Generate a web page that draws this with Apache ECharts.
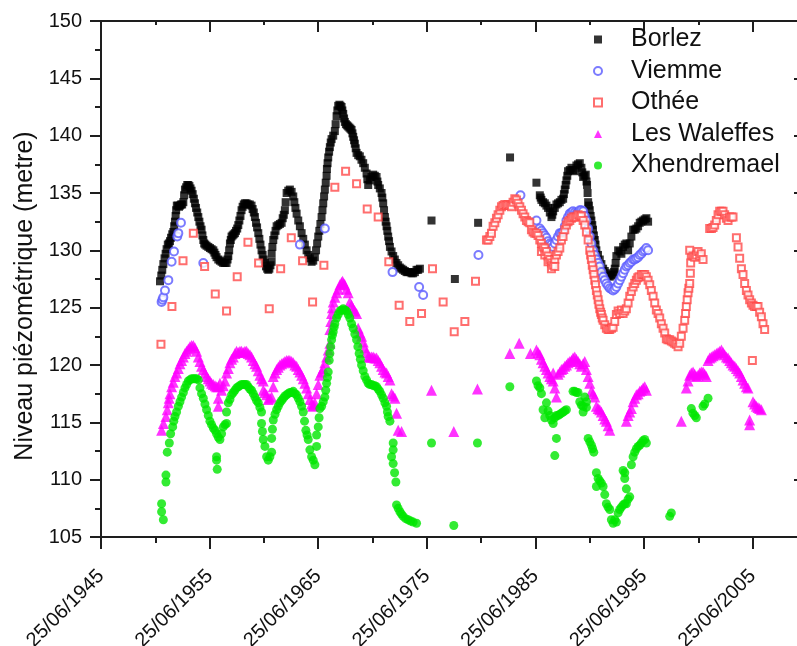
<!DOCTYPE html>
<html>
<head>
<meta charset="utf-8">
<script src="https://cdn.jsdelivr.net/npm/echarts@6/dist/echarts.min.js"></script>
<style>html,body{margin:0;padding:0;background:#fff}#c{width:797px;height:646px}</style>
</head>
<body>
<div id="c"></div>
<script>
// x values: decimal years, integer year = 25/06 of that year
const seriesNames = ['Borlez', 'Viemme', 'Othée', 'Les Waleffes', 'Xhendremael'];
const xTickYears = [1945, 1955, 1965, 1975, 1985, 1995, 2005];
const yTicks = [105, 110, 115, 120, 125, 130, 135, 140, 145, 150];

const borlez = [
[1950.43,127.3],[1950.55,127.8],[1950.64,128.3],[1950.74,128.8],[1950.85,129.3],[1950.95,129.7],[1951.04,130.1],[1951.15,130.5],[1951.25,130.6],[1951.35,130.8],[1951.45,131.1],[1951.56,131.4],[1951.66,131.6],[1951.74,132.1],[1951.81,132.5],[1951.87,133.0],[1951.92,133.5],[1951.98,133.9],[1952.08,133.9],[1952.18,133.8],[1952.27,133.9],[1952.37,134.0],[1952.47,134.0],[1952.58,134.2],[1952.65,134.8],[1952.73,135.3],[1952.84,135.5],[1952.94,135.7],[1953.04,135.7],[1953.14,135.6],[1953.24,135.4],[1953.34,135.2],[1953.44,134.9],[1953.55,134.5],[1953.65,134.1],[1953.75,133.7],[1953.86,133.3],[1953.96,132.9],[1954.06,132.5],[1954.16,132.1],[1954.26,131.8],[1954.34,131.3],[1954.42,130.9],[1954.50,130.6],[1954.60,130.5],[1954.72,130.4],[1954.88,130.3],[1955.03,130.2],[1955.18,130.1],[1955.34,130.0],[1955.44,129.8],[1955.54,129.6],[1955.64,129.4],[1955.80,129.2],[1955.95,129.1],[1956.10,129.0],[1956.25,128.9],[1956.40,128.9],[1956.56,128.9],[1956.65,129.2],[1956.72,129.5],[1956.80,130.0],[1956.87,130.6],[1956.95,130.9],[1957.02,131.2],[1957.12,131.3],[1957.22,131.4],[1957.33,131.5],[1957.43,131.7],[1957.54,131.9],[1957.64,132.2],[1957.74,132.6],[1957.84,133.0],[1957.94,133.5],[1958.04,133.8],[1958.15,134.0],[1958.25,134.1],[1958.40,134.1],[1958.55,134.0],[1958.70,134.0],[1958.86,133.9],[1958.96,133.6],[1959.07,133.3],[1959.17,132.9],[1959.27,132.4],[1959.37,132.0],[1959.48,131.5],[1959.58,131.0],[1959.68,130.5],[1959.78,130.0],[1959.88,129.6],[1959.98,129.2],[1960.09,128.9],[1960.19,128.6],[1960.30,128.4],[1960.40,128.3],[1960.50,128.4],[1960.60,128.7],[1960.71,129.0],[1960.71,129.7],[1960.78,130.3],[1960.86,130.9],[1960.96,131.3],[1961.07,131.7],[1961.17,132.1],[1961.32,132.2],[1961.47,132.3],[1961.63,132.4],[1961.73,132.8],[1961.83,133.1],[1961.93,133.5],[1962.00,134.2],[1962.09,135.0],[1962.24,135.2],[1962.39,135.3],[1962.55,135.1],[1962.70,134.7],[1962.80,134.2],[1962.90,133.7],[1963.01,133.2],[1963.16,132.6],[1963.31,132.1],[1963.47,131.5],[1963.62,131.0],[1963.77,130.5],[1963.93,130.0],[1964.08,129.6],[1964.23,129.3],[1964.39,129.0],[1964.54,129.1],[1964.69,129.4],[1964.80,130.0],[1964.90,130.6],[1965.00,131.2],[1965.10,131.7],[1965.20,132.3],[1965.31,132.9],[1965.39,133.5],[1965.46,134.1],[1965.54,134.7],[1965.61,135.3],[1965.69,135.9],[1965.77,136.5],[1965.80,137.1],[1965.86,137.6],[1965.92,138.1],[1966.00,138.6],[1966.07,139.0],[1966.15,139.4],[1966.23,139.7],[1966.38,140.0],[1966.53,140.4],[1966.60,141.0],[1966.69,141.7],[1966.76,142.2],[1966.84,142.6],[1966.95,142.7],[1967.05,142.6],[1967.15,142.5],[1967.22,142.2],[1967.30,141.9],[1967.38,141.5],[1967.45,141.2],[1967.55,141.0],[1967.66,140.9],[1967.76,140.8],[1967.87,140.7],[1967.97,140.6],[1968.07,140.5],[1968.15,140.2],[1968.22,139.9],[1968.30,139.6],[1968.37,139.3],[1968.45,138.9],[1968.53,138.5],[1968.68,138.3],[1968.83,138.2],[1968.98,137.9],[1969.14,137.6],[1969.29,137.2],[1969.45,136.7],[1969.52,136.2],[1969.60,135.7],[1969.75,136.1],[1969.90,136.4],[1970.06,136.6],[1970.21,136.5],[1970.37,136.4],[1970.45,136.0],[1970.52,135.7],[1970.67,135.4],[1970.83,135.0],[1970.90,134.6],[1970.98,134.1],[1971.06,133.5],[1971.14,132.9],[1971.21,132.5],[1971.29,132.1],[1971.36,131.7],[1971.44,131.2],[1971.52,130.8],[1971.60,130.3],[1971.75,129.9],[1971.90,129.5],[1972.05,129.2],[1972.20,128.9],[1972.36,128.7],[1972.51,128.5],[1972.66,128.4],[1972.82,128.3],[1972.97,128.2],[1973.13,128.1],[1973.28,128.1],[1973.43,128.1],[1973.59,128.0],[1973.74,128.0],[1973.90,128.1],[1974.05,128.3],[1974.20,128.3],[1974.36,128.4],
[1975.43,132.6],[1977.58,127.5],[1979.72,132.4],[1982.66,138.1],[1985.09,135.9],
[1985.40,134.8],[1985.48,134.6],[1985.55,134.4],[1985.70,134.2],[1985.86,134.1],[1986.01,133.9],[1986.16,133.7],[1986.32,133.3],[1986.47,132.9],[1986.55,133.1],[1986.63,133.4],[1986.78,133.7],[1986.93,134.0],[1987.08,134.1],[1987.24,134.2],[1987.39,134.4],[1987.55,134.5],[1987.62,134.9],[1987.70,135.3],[1987.78,135.7],[1987.85,136.1],[1987.93,136.5],[1988.00,136.9],[1988.16,137.0],[1988.31,137.2],[1988.46,137.0],[1988.62,136.9],[1988.77,137.4],[1988.92,137.5],[1989.08,137.6],[1989.23,137.2],[1989.31,136.8],[1989.39,136.4],[1989.51,136.5],[1989.63,136.6],[1989.70,136.0],[1989.75,135.7],[1989.80,135.0],[1989.85,134.2],[1989.92,133.9],[1990.00,133.5],[1990.08,133.0],[1990.15,132.6],[1990.23,132.2],[1990.30,131.8],[1990.38,131.3],[1990.46,130.9],[1990.53,130.5],[1990.61,130.0],[1990.76,129.6],[1990.92,129.2],[1991.07,128.8],[1991.23,128.4],[1991.38,128.2],[1991.53,128.0],[1991.69,127.8],[1991.84,127.7],[1992.00,127.8],[1992.15,127.9],[1992.22,128.1],[1992.30,128.4],[1992.38,128.9],[1992.45,129.5],[1992.61,130.0],[1992.76,129.9],[1992.91,129.7],[1993.07,130.3],[1993.22,130.5],[1993.37,130.6],[1993.53,130.0],[1993.68,130.6],[1993.83,131.2],[1993.99,131.8],[1994.14,131.8],[1994.29,131.9],[1994.45,132.1],[1994.60,132.4],[1994.75,132.5],[1994.91,132.6],[1995.06,132.7],[1995.21,132.8],[1995.37,132.5]
];

const viemme = [
[1950.58,125.5],[1950.66,125.7],[1950.74,125.9],[1950.89,126.5],[1951.20,127.4],[1951.50,129.0],[1951.72,129.9],[1952.02,131.2],[1952.12,131.5],[1952.36,132.4],[1954.42,128.9],[1963.31,130.5],[1965.61,131.9],[1971.84,128.1],[1974.29,126.8],[1974.66,126.1],[1979.75,129.6],[1983.62,134.8],[1985.09,132.6],
[1985.40,131.9],[1985.55,131.7],[1985.70,131.5],[1985.86,131.3],[1986.01,131.1],[1986.16,130.8],[1986.32,130.6],[1986.47,130.5],[1986.62,130.3],[1986.78,130.6],[1986.93,130.9],[1987.08,131.2],[1987.24,131.5],[1987.39,131.5],[1987.55,131.6],[1987.70,132.1],[1987.85,132.6],[1988.00,132.9],[1988.16,133.2],[1988.31,133.3],[1988.46,133.4],[1988.62,133.3],[1988.77,133.2],[1988.92,133.3],[1989.08,133.5],[1989.23,133.5],[1989.39,133.4],[1989.54,133.0],[1989.69,132.6],[1989.85,131.9],[1990.00,131.2],[1990.15,130.6],[1990.31,130.0],[1990.46,129.6],[1990.61,129.2],[1990.77,128.9],[1990.92,128.6],[1991.07,128.1],[1991.23,127.7],[1991.38,127.4],[1991.53,127.1],[1991.69,126.9],[1991.84,126.7],[1992.00,126.6],[1992.15,126.5],[1992.30,126.6],[1992.45,126.8],[1992.61,127.1],[1992.76,127.4],[1992.91,127.7],[1993.07,128.0],[1993.22,128.3],[1993.37,128.6],[1993.53,128.7],[1993.68,128.9],[1993.83,129.0],[1993.99,129.2],[1994.14,129.2],[1994.29,129.3],[1994.45,129.4],[1994.60,129.6],[1994.75,129.7],[1994.91,129.9],[1995.06,130.0],[1995.21,130.2],[1995.37,130.0]
];

const othee = [
[1950.52,121.8],[1951.53,125.1],[1952.55,129.1],[1953.50,131.5],[1954.54,128.6],[1955.52,126.2],[1956.56,124.7],[1957.54,127.7],[1958.53,130.7],[1959.51,128.9],[1960.49,124.9],[1961.54,128.4],[1962.52,131.1],[1963.56,129.1],[1964.48,125.5],[1965.52,128.7],[1966.53,135.5],[1967.52,136.9],[1968.53,135.8],[1969.51,133.6],[1970.52,132.9],[1971.50,129.0],[1972.45,125.2],[1973.43,123.8],[1974.51,124.5],[1975.52,128.4],[1976.50,125.5],[1977.52,122.9],[1978.50,123.8],[1979.48,127.3],
[1980.49,130.9],[1980.64,130.9],[1980.80,131.2],[1980.95,131.5],[1981.10,132.1],[1981.26,132.4],[1981.41,132.8],[1981.56,133.1],[1981.72,133.5],[1981.87,133.8],[1982.02,133.9],[1982.18,134.0],[1982.33,133.9],[1982.48,134.0],[1982.64,133.9],[1982.79,133.8],[1982.94,134.2],[1983.10,134.5],[1983.25,134.4],[1983.40,134.1],[1983.56,133.8],[1983.71,133.5],[1983.86,133.2],[1984.02,132.9],[1984.17,132.6],[1984.33,132.5],[1984.48,132.4],[1984.63,131.8],[1984.78,131.6],[1984.94,131.5],[1985.09,131.5],[1985.24,131.3],[1985.40,130.9],[1985.55,130.6],[1985.55,129.9],[1985.70,130.3],[1985.86,130.2],[1985.86,129.6],[1986.01,129.9],[1986.16,129.5],[1986.16,129.0],[1986.32,129.2],[1986.47,128.9],[1986.47,128.4],[1986.62,128.7],[1986.78,129.2],[1986.78,128.6],[1986.93,129.6],[1987.08,129.9],[1987.24,130.2],[1987.39,130.9],[1987.54,131.2],[1987.70,131.8],[1987.85,132.2],[1988.00,132.5],[1988.16,132.6],[1988.31,132.8],[1988.46,132.9],[1988.62,132.9],[1988.77,132.9],[1988.92,133.1],[1989.08,133.0],[1989.23,133.0],[1989.39,132.6],[1989.54,132.2],[1989.69,131.6],[1989.85,130.9],[1990.00,130.0],[1990.08,129.6],[1990.15,129.2],[1990.23,128.7],[1990.31,128.3],[1990.38,127.9],[1990.46,127.4],[1990.53,127.0],[1990.61,126.5],[1990.69,126.1],[1990.77,125.7],[1990.84,125.3],[1990.92,124.9],[1991.00,124.6],[1991.07,124.4],[1991.15,124.1],[1991.23,123.9],[1991.38,123.5],[1991.53,123.2],[1991.69,123.1],[1991.84,123.1],[1992.00,123.2],[1992.15,123.3],[1992.30,123.8],[1992.45,124.4],[1992.61,124.7],[1992.76,124.5],[1992.91,124.8],[1993.07,124.5],[1993.22,124.7],[1993.37,124.9],[1993.53,125.4],[1993.68,126.0],[1993.83,126.4],[1993.99,126.8],[1994.14,127.1],[1994.29,127.4],[1994.42,127.6],[1994.54,127.7],[1994.75,127.9],[1994.91,127.9],[1995.06,127.9],[1995.21,127.7],[1995.37,127.4],[1995.52,127.0],[1995.67,126.5],[1995.83,126.0],[1995.98,125.4],[1996.13,124.8],[1996.29,124.5],[1996.44,124.1],[1996.59,123.6],[1996.75,123.2],[1996.90,122.8],[1997.05,122.3],[1997.20,122.2],[1997.36,122.2],[1997.51,122.1],[1997.67,122.0],[1997.82,121.9],[1997.97,121.8],[1998.13,121.6],[1998.28,121.9],[1998.43,122.5],[1998.59,123.2],[1998.74,123.9],[1998.82,124.5],[1998.89,125.1],[1998.97,125.7],[1999.05,126.3],[1999.12,126.7],[1999.20,127.1],[1999.26,128.0],[1999.29,128.9],[1999.35,129.6],[1999.20,130.0],[1999.51,129.5],[1999.66,129.4],[1999.81,129.6],[1999.97,129.9],[2000.12,129.5],[2000.27,129.7],[2000.43,129.2],[2001.04,131.9],[2001.20,131.9],[2001.35,132.0],[2001.50,132.2],[2001.65,132.6],[2001.81,133.1],[2001.96,133.4],[2002.12,133.4],[2002.27,133.4],[2002.42,133.1],[2002.58,132.8],[2002.73,132.6],[2002.88,132.9],[2003.04,132.9],[2003.19,132.9],[2003.50,131.1],[2003.65,130.3],[2003.80,129.3],[2003.96,128.4],[2004.11,127.9],[2004.26,127.1],[2004.42,126.5],[2004.57,126.1],[2004.72,125.7],[2004.88,125.4],[2005.03,125.2],[2005.18,125.1],[2005.34,125.1],[2005.49,125.1],[2005.64,124.6],[2005.80,124.2],[2005.95,123.6],[2006.10,123.1],[2004.97,120.4]
];

const waleffes = [
[1950.58,114.3],[1950.75,114.9],[1950.98,115.5],[1951.10,116.1],[1951.20,116.7],[1951.28,117.1],[1951.35,117.5],[1951.50,118.1],[1951.65,118.5],[1951.81,119.0],[1951.96,119.3],[1952.12,119.7],[1952.27,120.1],[1952.42,120.4],[1952.58,120.7],[1952.73,121.0],[1952.88,121.2],[1953.04,121.4],[1953.19,121.6],[1953.34,121.7],[1953.50,121.7],[1953.65,121.5],[1953.80,121.2],[1953.96,120.7],[1954.11,120.3],[1954.26,119.9],[1954.42,119.6],[1954.57,119.3],[1954.72,119.0],[1954.88,118.8],[1955.03,118.6],[1955.18,118.4],[1955.34,118.3],[1955.50,118.2],[1955.64,118.1],[1955.80,118.1],[1955.95,118.4],[1955.80,117.1],[1955.80,116.4],[1956.10,117.8],[1956.26,118.2],[1956.41,118.6],[1956.56,119.3],[1956.72,119.7],[1956.87,120.2],[1957.02,120.5],[1957.18,120.7],[1957.33,121.0],[1957.48,121.2],[1957.64,121.1],[1957.79,121.2],[1957.94,121.2],[1958.10,121.1],[1958.25,121.2],[1958.40,121.2],[1958.55,121.0],[1958.71,120.9],[1958.86,120.7],[1959.02,120.4],[1959.17,120.1],[1959.32,119.9],[1959.48,119.5],[1959.63,119.1],[1959.78,118.8],[1959.94,118.6],[1959.94,117.8],[1960.09,117.6],[1960.25,117.4],[1960.40,117.0],[1960.55,117.1],[1960.71,117.2],[1960.86,118.1],[1960.86,119.0],[1961.02,119.3],[1961.17,119.6],[1961.32,119.8],[1961.47,120.0],[1961.63,120.1],[1961.78,120.2],[1961.93,120.3],[1962.09,120.4],[1962.24,120.4],[1962.39,120.4],[1962.55,120.3],[1962.70,120.2],[1962.85,120.0],[1963.01,119.9],[1963.16,119.6],[1963.31,119.4],[1963.47,119.1],[1963.62,118.8],[1963.77,118.4],[1963.93,118.0],[1964.08,117.5],[1964.23,117.0],[1964.39,116.6],[1964.48,116.4],[1964.60,116.5],[1964.69,116.7],[1964.85,117.5],[1965.00,118.3],[1965.15,119.1],[1965.31,119.4],[1965.46,119.7],[1965.61,120.2],[1965.77,120.7],[1965.92,121.3],[1966.07,121.9],[1966.07,123.1],[1966.15,123.8],[1966.23,124.5],[1966.30,125.0],[1966.38,125.5],[1966.53,125.9],[1966.69,126.3],[1966.84,126.6],[1966.99,127.0],[1967.14,127.2],[1967.24,127.3],[1967.35,127.1],[1967.45,127.0],[1967.60,126.6],[1967.76,126.3],[1967.91,125.5],[1968.07,125.2],[1968.22,124.9],[1968.37,124.7],[1968.53,124.5],[1968.68,123.2],[1968.84,122.8],[1968.99,122.5],[1969.14,122.0],[1969.29,121.5],[1969.45,121.1],[1969.60,120.7],[1969.75,120.7],[1969.91,120.7],[1970.06,120.7],[1970.21,120.6],[1970.37,120.6],[1970.52,120.4],[1970.67,120.2],[1970.83,119.9],[1970.98,119.6],[1971.14,119.4],[1971.29,119.3],[1971.44,119.0],[1971.60,118.7],[1971.75,117.5],[1971.90,117.3],[1972.06,117.1],[1972.21,115.8],[1972.36,114.3],[1972.67,114.2],
[1975.43,117.8],[1977.48,114.2],[1979.66,117.9],[1982.64,121.0],[1983.50,121.9],[1984.54,121.0],[1985.09,121.3],[1985.24,121.1],[1985.40,120.9],[1985.55,120.5],[1985.70,120.2],[1985.86,119.9],[1986.01,119.6],[1986.16,119.3],[1986.32,119.0],[1986.47,118.8],[1986.63,118.6],[1986.63,119.3],[1986.78,118.0],[1986.93,117.2],[1987.08,119.2],[1987.24,119.4],[1987.39,119.6],[1987.55,119.7],[1987.70,119.9],[1987.85,120.0],[1988.00,120.2],[1988.16,120.3],[1988.31,120.4],[1988.46,120.6],[1988.62,120.7],[1988.77,120.5],[1988.93,120.3],[1989.08,120.1],[1989.23,119.9],[1989.39,120.1],[1989.54,120.3],[1989.69,119.6],[1989.85,119.0],[1990.00,118.4],[1990.15,117.7],[1990.31,117.5],[1990.46,117.2],[1990.61,116.4],[1990.77,116.2],[1990.92,116.1],[1991.07,115.9],[1991.23,115.6],[1991.38,115.3],[1991.53,115.1],[1991.69,114.7],[1991.84,114.3],[1993.37,115.1],[1993.53,115.6],[1993.68,115.9],[1993.83,116.2],[1993.99,116.8],[1994.14,117.1],[1994.29,117.4],[1994.45,117.5],[1994.60,117.7],[1994.75,117.8],[1994.91,118.0],[1995.06,118.1],[1995.21,117.8],
[1998.43,115.1],[1998.89,118.0],[1999.05,118.6],[1999.20,119.1],[1999.35,119.3],[1999.51,119.4],[1999.66,119.2],[1999.81,119.0],[1999.97,119.1],[2000.12,119.3],[2000.27,119.4],[2000.43,119.4],[2000.58,119.2],[2000.73,119.0],[2000.89,120.4],[2001.04,120.6],[2001.19,120.7],[2001.35,120.8],[2001.50,120.9],[2001.66,121.0],[2001.81,121.1],[2001.97,121.2],[2002.12,121.3],[2002.27,121.1],[2002.42,120.9],[2002.58,120.7],[2002.73,120.6],[2002.88,120.4],[2003.04,120.2],[2003.19,120.0],[2003.35,119.9],[2003.50,119.7],[2003.65,119.5],[2003.80,119.3],[2003.96,119.0],[2004.11,118.7],[2004.26,118.4],[2004.42,118.1],[2004.57,118.0],[2004.72,115.2],[2004.72,114.8],[2005.03,116.8],[2005.18,116.6],[2005.34,116.4],[2005.49,116.3],[2005.64,116.2],[2005.80,116.1]
];

const xhendremael = [
[1950.58,107.9],[1950.58,107.2],[1950.74,106.5],[1950.98,110.4],[1950.98,109.8],[1951.10,112.4],[1951.29,113.2],[1951.41,114.0],[1951.60,114.6],[1951.70,115.1],[1951.81,115.5],[1951.96,115.9],[1952.12,116.4],[1952.27,116.8],[1952.42,117.2],[1952.58,117.6],[1952.73,118.0],[1952.88,118.3],[1953.04,118.6],[1953.19,118.7],[1953.34,118.8],[1953.50,118.8],[1953.65,118.8],[1953.80,118.8],[1953.96,118.7],[1954.11,118.0],[1954.26,117.5],[1954.42,117.1],[1954.57,116.6],[1954.72,116.1],[1954.88,115.6],[1955.03,115.1],[1955.18,114.8],[1955.34,114.5],[1955.50,114.3],[1955.64,114.0],[1955.80,113.7],[1955.95,113.5],[1956.10,114.0],[1956.26,114.6],[1956.41,114.8],[1956.56,114.9],[1955.64,112.0],[1955.64,111.7],[1955.70,110.9],[1956.56,115.9],[1956.72,116.7],[1956.87,117.0],[1957.02,117.4],[1957.18,117.6],[1957.33,117.8],[1957.48,118.0],[1957.64,118.1],[1957.79,118.2],[1957.94,118.3],[1958.10,118.3],[1958.25,118.3],[1958.40,118.3],[1958.55,118.1],[1958.71,117.9],[1958.86,117.8],[1959.02,117.5],[1959.17,117.2],[1959.32,116.9],[1959.48,116.7],[1959.63,116.3],[1959.78,115.9],[1959.78,114.9],[1959.86,114.2],[1959.94,113.5],[1960.09,112.9],[1960.25,112.0],[1960.40,111.7],[1960.55,112.0],[1960.71,112.4],[1960.71,113.6],[1960.78,114.4],[1960.86,115.2],[1961.02,115.7],[1961.17,116.1],[1961.32,116.4],[1961.47,116.7],[1961.63,116.9],[1961.78,117.1],[1961.93,117.3],[1962.09,117.4],[1962.24,117.5],[1962.39,117.6],[1962.55,117.6],[1962.70,117.7],[1962.85,117.5],[1963.01,117.4],[1963.16,117.1],[1963.31,116.8],[1963.47,116.4],[1963.62,115.9],[1963.74,115.1],[1963.86,114.3],[1963.97,113.9],[1964.08,113.5],[1964.23,112.6],[1964.39,112.0],[1964.54,111.7],[1964.69,111.3],[1964.85,112.9],[1964.85,113.9],[1965.00,114.6],[1965.08,115.4],[1965.15,116.2],[1965.31,116.4],[1965.46,116.8],[1965.61,117.2],[1965.69,117.8],[1965.77,118.4],[1965.85,118.9],[1965.92,119.4],[1966.01,120.4],[1966.07,121.0],[1966.15,121.6],[1966.23,122.2],[1966.30,122.6],[1966.38,122.9],[1966.46,123.3],[1966.53,123.6],[1966.69,124.1],[1966.84,124.4],[1966.99,124.7],[1967.15,124.8],[1967.30,124.9],[1967.45,124.8],[1967.61,124.7],[1967.76,124.4],[1967.91,124.1],[1968.07,123.6],[1968.22,123.2],[1968.37,122.7],[1968.53,122.2],[1968.65,121.6],[1968.77,121.0],[1968.88,120.5],[1968.99,120.0],[1969.14,119.5],[1969.29,119.0],[1969.45,118.7],[1969.60,118.4],[1969.75,118.3],[1969.91,118.3],[1970.06,118.2],[1970.21,118.2],[1970.37,118.1],[1970.52,117.9],[1970.67,117.7],[1970.83,117.4],[1970.98,117.1],[1971.14,116.7],[1971.29,116.4],[1971.37,115.9],[1971.44,115.5],[1971.60,115.1],[1971.90,113.2],[1971.90,112.6],[1971.75,112.0],[1971.90,111.4],[1972.03,110.6],[1972.15,109.8],[1972.21,107.8],[1972.36,107.5],[1972.52,107.2],[1972.67,107.0],[1972.82,106.8],[1973.05,106.6],[1973.28,106.5],[1973.51,106.4],[1973.74,106.3],[1974.05,106.2],
[1975.43,113.2],[1977.48,106.0],[1979.66,113.2],[1982.64,118.1],[1985.09,118.6],[1985.24,118.2],[1985.40,118.0],[1985.55,117.5],[1985.70,116.1],[1985.86,115.4],[1986.01,116.7],[1986.16,116.0],[1986.32,115.6],[1986.47,115.2],[1986.63,114.9],[1986.78,115.4],[1986.93,115.6],[1987.08,115.6],[1987.24,115.7],[1987.39,115.8],[1987.55,115.9],[1987.70,116.0],[1987.85,116.1],[1986.93,113.6],[1986.78,112.1],[1988.46,117.7],[1988.62,117.7],[1988.77,117.6],[1988.92,117.6],[1989.08,116.8],[1989.23,116.5],[1989.39,116.4],[1989.39,115.9],[1989.54,117.2],[1989.69,116.8],[1989.69,116.3],[1989.85,113.6],[1990.00,113.3],[1990.15,113.0],[1990.26,112.7],[1990.37,112.4],[1990.61,110.6],[1990.77,110.1],[1990.61,109.4],[1990.92,109.9],[1991.07,109.7],[1991.23,109.4],[1991.38,108.7],[1991.53,107.9],[1991.69,107.6],[1991.84,107.4],[1991.99,106.5],[1992.15,106.2],[1992.30,106.5],[1992.45,106.3],[1992.61,107.1],[1992.76,107.4],[1992.91,107.6],[1993.07,107.8],[1993.22,107.9],[1993.37,107.9],[1993.53,108.3],[1993.68,108.5],[1993.37,109.2],[1993.22,110.1],[1993.07,110.8],[1993.22,110.6],[1993.83,111.3],[1993.99,112.0],[1994.14,112.4],[1994.29,112.7],[1994.45,112.9],[1994.60,113.0],[1994.75,113.2],[1994.91,113.4],[1995.06,113.5],[1995.21,113.2],
[1997.36,106.8],[1997.51,107.1],[1999.35,116.2],[1999.50,115.8],[1999.66,115.6],[1999.81,115.4],[2000.43,116.4],[2000.58,116.6],[2000.89,117.1]
];

const chart = echarts.init(document.getElementById('c'), null, { renderer: 'canvas' });
const FONT = 'Liberation Sans, Arial, sans-serif';
const AXC = '#1e1e1e';
const gridRect = { left: 101, top: 21, width: 706, height: 516, containLabel: false, outerBoundsMode: 'none' };

const axisLine = { show: true, lineStyle: { color: AXC, width: 2 } };

const option = {
  animation: false,
  backgroundColor: '#ffffff',
  grid: [Object.assign({}, gridRect), Object.assign({}, gridRect)],
  legend: {
    orient: 'vertical',
    left: 588,
    top: 22,
    itemWidth: 8,
    itemHeight: 8,
    itemGap: 6.5,
    data: seriesNames,
    textStyle: { fontFamily: FONT, fontSize: 25, lineHeight: 25, color: '#111', padding: [0, 0, 0, 24] }
  },
  xAxis: [
    { gridIndex: 0, type: 'value', position: 'bottom', min: xTickYears[0], max: 2010, interval: 10,
      axisLine: axisLine, splitLine: { show: false },
      axisTick: { show: true, inside: false, length: 12, lineStyle: { color: AXC, width: 2 } },
      axisLabel: { show: true, rotate: 45, margin: 36, align: 'right', verticalAlign: 'middle',
        fontFamily: FONT, fontSize: 20, color: '#111',
        formatter: v => (xTickYears.indexOf(v) >= 0 ? '25/06/' + v : '') } },
    { gridIndex: 0, type: 'value', position: 'top', min: xTickYears[0], max: 2010, interval: 10,
      axisLine: axisLine, splitLine: { show: false },
      axisTick: { show: true, inside: true, length: 11, lineStyle: { color: AXC, width: 2 } },
      axisLabel: { show: false } },
    { gridIndex: 1, type: 'value', position: 'bottom', min: xTickYears[0], max: 2010, interval: 5,
      axisLine: { show: false }, splitLine: { show: false },
      axisTick: { show: true, inside: false, length: 6, lineStyle: { color: AXC, width: 2 } },
      axisLabel: { show: false } },
    { gridIndex: 1, type: 'value', position: 'top', min: xTickYears[0], max: 2010, interval: 5,
      axisLine: { show: false }, splitLine: { show: false },
      axisTick: { show: true, inside: true, length: 4, lineStyle: { color: AXC, width: 2 } },
      axisLabel: { show: false } }
  ],
  yAxis: [
    { gridIndex: 0, type: 'value', position: 'left', min: yTicks[0], max: yTicks[yTicks.length - 1], interval: 5,
      axisLine: axisLine, splitLine: { show: false },
      axisTick: { show: true, inside: false, length: 11, lineStyle: { color: AXC, width: 2 } },
      minorTick: { show: true, splitNumber: 2, length: 6, lineStyle: { color: AXC, width: 2 } },
      axisLabel: { show: true, margin: 19, fontFamily: FONT, fontSize: 20, color: '#111' },
      name: 'Niveau piézométrique (metre)', nameLocation: 'middle', nameGap: 63, nameRotate: 90,
      nameTextStyle: { fontFamily: FONT, fontSize: 25, color: '#111', padding: [0, 34, 0, 0] } },
    { gridIndex: 0, type: 'value', position: 'right', min: yTicks[0], max: yTicks[yTicks.length - 1], interval: 5,
      axisLine: axisLine, splitLine: { show: false },
      axisTick: { show: true, inside: true, length: 13, lineStyle: { color: AXC, width: 2 } },
      axisLabel: { show: false } },
    { gridIndex: 1, type: 'value', show: false, min: yTicks[0], max: yTicks[yTicks.length - 1] }
  ],
  series: [
    { name: seriesNames[0], type: 'scatter', xAxisIndex: 0, yAxisIndex: 0, data: borlez,
      symbol: 'rect', symbolSize: 8, itemStyle: { color: '#000000' } },
    { name: seriesNames[1], type: 'scatter', xAxisIndex: 0, yAxisIndex: 0, data: viemme,
      symbol: 'emptyCircle', symbolSize: 8, itemStyle: { color: '#5a5aff', borderColor: '#5a5aff', borderWidth: 1 } },
    { name: seriesNames[2], type: 'scatter', xAxisIndex: 0, yAxisIndex: 0, data: othee,
      symbol: 'emptyRect', symbolSize: 7, itemStyle: { color: '#ff4a4a', borderColor: '#ff4a4a', borderWidth: 1 } },
    { name: seriesNames[3], type: 'scatter', xAxisIndex: 0, yAxisIndex: 0, data: waleffes,
      symbol: 'triangle', symbolSize: 11, itemStyle: { color: '#ff00ff' } },
    { name: seriesNames[4], type: 'scatter', xAxisIndex: 0, yAxisIndex: 0, data: xhendremael,
      symbol: 'circle', symbolSize: 9, itemStyle: { color: '#00e600' } }
  ]
};
chart.setOption(option);
</script>
</body>
</html>
